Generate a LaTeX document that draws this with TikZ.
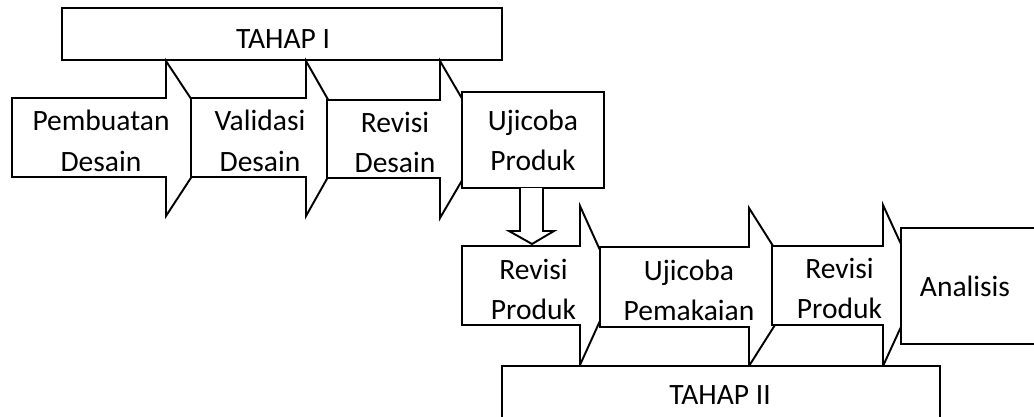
\documentclass[tikz,border=0pt]{standalone}
\usepackage{fontspec}
\setmainfont{Carlito}
\usepackage{tikz}
\tikzset{
  blok/.style={draw, line width=1.1pt, fill=white},
  teks/.style={inner sep=0pt, anchor=base, font=\fontsize{16.8}{23}\selectfont}
}
\newcommand{\duabaris}[2]{\begin{tabular}[t]{@{}c@{}}#1\\#2\end{tabular}}

\begin{document}
\begin{tikzpicture}[x=0.02cm, y=-0.02cm]
\useasboundingbox (0,0) rectangle (1034,416);
\fill[white] (0,0) rectangle (1034,416);
% tahap I
\draw[blok] (62,8) rectangle (502,60);
\node[teks] (tahap1) at (283,48) {TAHAP I};
\draw[blok] (12,98) -- (166,98) -- (166,61) -- (217,138) -- (166,216) -- (166,177) -- (12,177) -- cycle;
\node[teks] (pembuatan) at (101,130.7) {\duabaris{Pembuatan}{Desain}};
\draw[blok] (191,98) -- (306,98) -- (306,61) -- (350,138) -- (306,216) -- (306,177) -- (191,177) -- cycle;
\node[teks] (validasi) at (260,130.7) {\duabaris{Validasi}{Desain}};
\draw[blok] (327,100) -- (440,100) -- (440,61) -- (486,139.5) -- (440,218) -- (440,178) -- (327,178) -- cycle;
\node[teks] (revisidesain) at (395,132.5) {\duabaris{Revisi}{Desain}};
\draw[blok] (462,92) rectangle (604,188);
\node[teks] (ujicobaproduk) at (533,130) {\duabaris{Ujicoba}{Produk}};
% panah ke bawah
\draw[blok] (520,188) -- (520,231) -- (509,231) -- (532,244) -- (554,231) -- (543,231) -- (543,188);
% tahap II
\draw[blok] (462,246) -- (580,246) -- (580,206) -- (616,285.5) -- (580,365) -- (580,325) -- (462,325) -- cycle;
\node[teks] (revisiproduk1) at (533.5,279) {\duabaris{Revisi}{Produk}};
\draw[blok] (600,247) -- (749,247) -- (749,208) -- (799,287) -- (749,366) -- (749,327) -- (600,327) -- cycle;
\node[teks] (pemakaian) at (689,280) {\duabaris{Ujicoba}{Pemakaian}};
\draw[blok] (772,246) -- (883,246) -- (883,205) -- (920,285.5) -- (883,366) -- (883,325) -- (772,325) -- cycle;
\node[teks] (revisiproduk2) at (839.5,278) {\duabaris{Revisi}{Produk}};
\draw[blok] (901,228) rectangle (1045,344);
\node[teks] (analisis) at (965,296.7) {Analisis};
\draw[blok] (502,366) rectangle (940,425);
\node[teks] (tahap2) at (720,404) {TAHAP II};
\end{tikzpicture}
\end{document}
